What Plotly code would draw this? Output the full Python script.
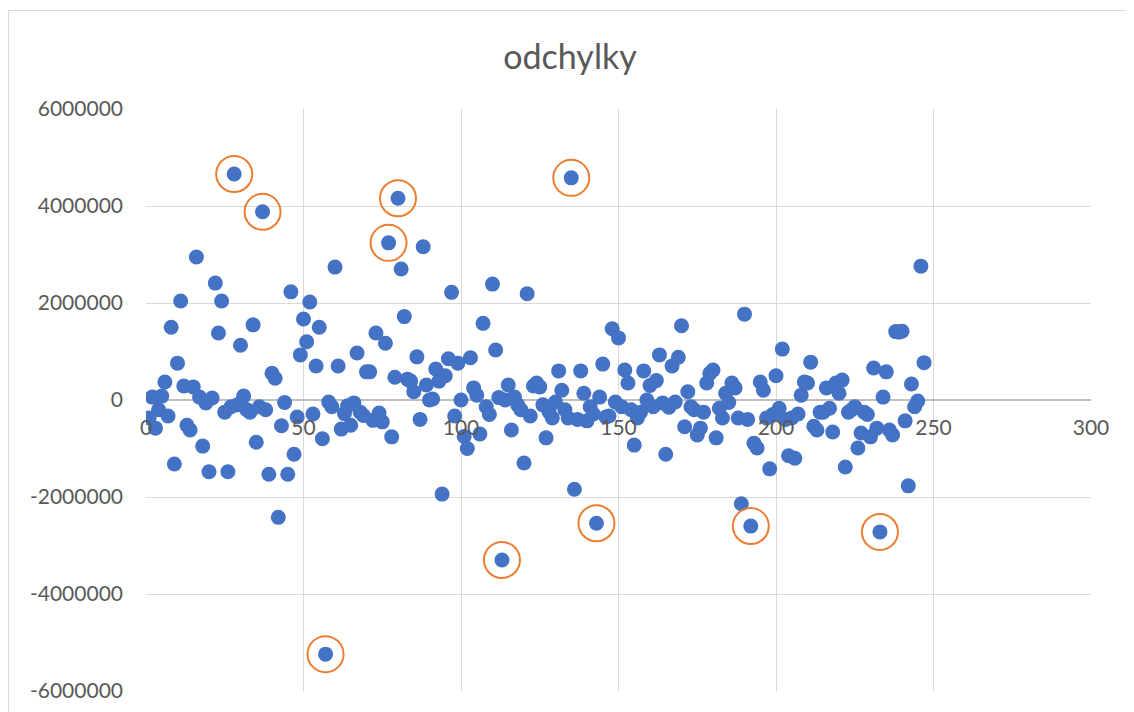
import plotly.graph_objects as go

# Deviations ("odchylky") in millions, observation 1..247
deviation_millions = [
    -0.37, 0.06, -0.58, -0.20, 0.08, 0.37, -0.33, 1.50, -1.32, 0.76,      # 1-10
    2.04, 0.29, -0.52, -0.62, 0.27, 2.95, 0.06, -0.95, -0.06, -1.48,      # 11-20
    0.04, 2.41, 1.38, 2.04, -0.25, -1.48, -0.14, 4.66, -0.10, 1.13,       # 21-30
    0.08, -0.20, -0.25, 1.55, -0.87, -0.14, 3.88, -0.20, -1.53, 0.55,     # 31-40
    0.45, -2.42, -0.53, -0.05, -1.53, 2.23, -1.12, -0.35, 0.93, 1.67,     # 41-50
    1.20, 2.02, -0.29, 0.70, 1.50, -0.80, -5.24, -0.04, -0.14, 2.74,      # 51-60
    0.70, -0.60, -0.28, -0.12, -0.52, -0.06, 0.97, -0.25, -0.32, 0.58,    # 61-70
    0.58, -0.42, 1.38, -0.27, -0.45, 1.17, 3.24, -0.76, 0.47, 4.16,       # 71-80
    2.70, 1.72, 0.43, 0.39, 0.17, 0.89, -0.40, 3.16, 0.31, 0.00,          # 81-90
    0.02, 0.64, 0.39, -1.94, 0.50, 0.85, 2.22, -0.33, 0.76, 0.00,         # 91-100
    -0.75, -1.00, 0.87, 0.25, 0.10, -0.70, 1.58, -0.14, -0.30, 2.39,      # 101-110
    1.03, 0.05, -3.30, 0.00, 0.31, -0.62, 0.06, -0.10, -0.20, -1.30,      # 111-120
    2.19, -0.33, 0.29, 0.35, 0.27, -0.10, -0.78, -0.25, -0.37, -0.04,     # 121-130
    0.60, 0.20, -0.20, -0.37, 4.58, -1.84, -0.40, 0.60, 0.14, -0.43,      # 131-140
    -0.14, -0.29, -2.54, 0.06, 0.74, -0.35, -0.33, 1.47, -0.04, 1.28,     # 141-150
    -0.14, 0.62, 0.35, -0.20, -0.93, -0.37, -0.25, 0.60, 0.00, 0.30,      # 151-160
    -0.14, 0.40, 0.93, -0.06, -1.12, -0.15, 0.70, -0.04, 0.88, 1.53,      # 161-170
    -0.55, 0.17, -0.14, -0.20, -0.72, -0.58, -0.25, 0.35, 0.55, 0.62,     # 171-180
    -0.78, -0.17, -0.37, 0.14, -0.05, 0.35, 0.25, -0.37, -2.14, 1.77,     # 181-190
    -0.40, -2.60, -0.89, -0.99, 0.37, 0.20, -0.37, -1.42, -0.30, 0.50,    # 191-200
    -0.17, 1.05, -0.40, -1.15, -0.37, -1.20, -0.29, 0.10, 0.37, 0.35,     # 201-210
    0.78, -0.54, -0.62, -0.25, -0.25, 0.25, -0.17, -0.66, 0.35, 0.14,     # 211-220
    0.41, -1.38, -0.25, -0.20, -0.14, -0.99, -0.68, -0.25, -0.30, -0.76,  # 221-230
    0.66, -0.58, -2.72, 0.06, 0.58, -0.62, -0.72, 1.41, 1.40, 1.42,       # 231-240
    -0.43, -1.77, 0.33, -0.14, -0.02, 2.76, 0.77,                         # 241-247
]

# Observations highlighted with orange rings
outlier_obs = [28, 37, 57, 77, 80, 113, 135, 143, 192, 233]

x_ticks = [0, 50, 100, 150, 200, 250, 300]
y_ticks = [-6000000, -4000000, -2000000, 0, 2000000, 4000000, 6000000]

obs = list(range(1, len(deviation_millions) + 1))
values = [v * 1_000_000 for v in deviation_millions]
out_x = outlier_obs
out_y = [values[i - 1] for i in outlier_obs]

FONT = "Lato"
TXT = "#595959"
GRID = "#D9D9D9"

W, H = 1126, 704
ML, MR, MT, MB = 138, 43, 101, 21
PW, PH = W - ML - MR, H - MT - MB

fig = go.Figure()
fig.add_trace(go.Scatter(
    x=obs, y=values, mode="markers",
    marker=dict(size=15, color="#4472C4", line=dict(width=0)),
    showlegend=False, hoverinfo="x+y",
))
fig.add_trace(go.Scatter(
    x=out_x, y=out_y, mode="markers",
    marker=dict(symbol="circle-open", size=36, color="#ED7D31",
                line=dict(width=2, color="#ED7D31")),
    showlegend=False, hoverinfo="skip",
))

fig.update_layout(
    width=W, height=H,
    margin=dict(l=ML, r=MR, t=MT, b=MB, autoexpand=False),
    paper_bgcolor="white", plot_bgcolor="white",
    font=dict(family=FONT, color=TXT, size=21),
    title=dict(text="odchylky", x=(570 - 8) / W, xref="container", xanchor="center",
               y=1 - (57 - 8) / H, yref="container", yanchor="middle",
               font=dict(family=FONT, size=34, color=TXT)),
    xaxis=dict(
        range=[0, 300], tickvals=x_ticks, ticktext=[str(t) for t in x_ticks],
        showgrid=True, gridcolor=GRID, gridwidth=1,
        zeroline=False, showline=False, ticks="",
        anchor="free", position=0.5,
        tickfont=dict(family=FONT, size=21, color=TXT),
        ticklabelstandoff=13,
    ),
    yaxis=dict(
        range=[-6000000, 6000000], tickvals=y_ticks,
        ticktext=[str(t) for t in y_ticks],
        showgrid=True, gridcolor=GRID, gridwidth=1,
        zeroline=True, zerolinecolor="#BFBFBF", zerolinewidth=1.5,
        showline=False, ticks="",
        tickfont=dict(family=FONT, size=21, color=TXT),
        ticklabelstandoff=22,
    ),
    shapes=[dict(type="rect", xref="paper", yref="paper",
                 x0=(0.5 - ML) / PW, x1=(W + 20 - ML) / PW,
                 y0=-(MB + 20) / PH, y1=(PH + MT - 2.5) / PH,
                 line=dict(color="#D9D9D9", width=1), fillcolor="rgba(0,0,0,0)",
                 layer="below")],
)

fig.write_html("out.html")
